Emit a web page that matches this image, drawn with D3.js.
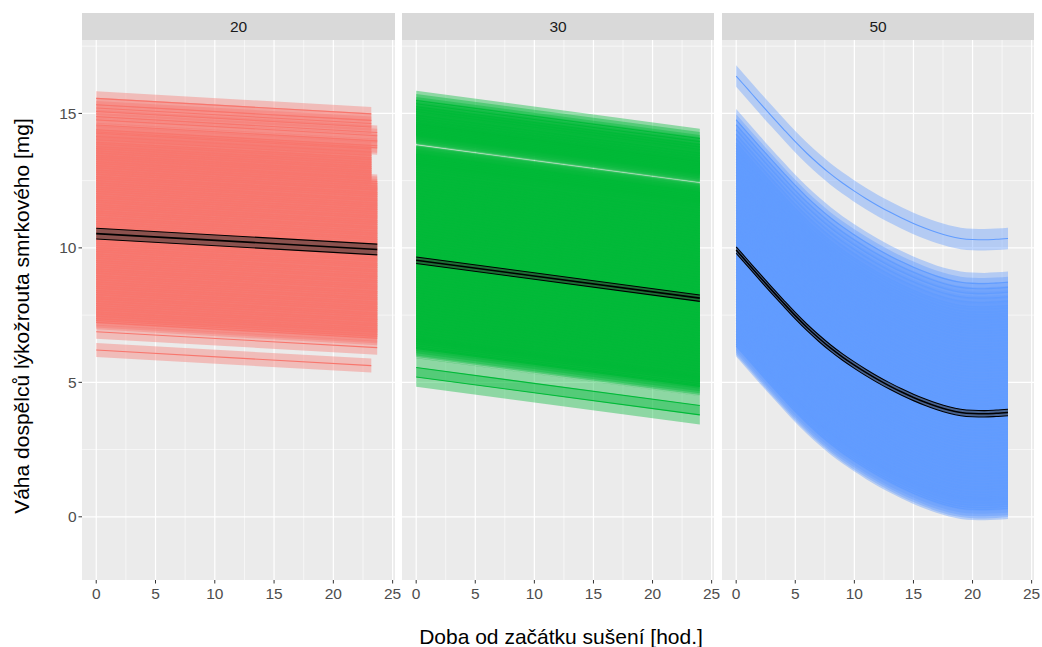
<!DOCTYPE html>
<html>
  <head>
    <meta charset="utf-8">
    <title>Váha dospělců lýkožrouta smrkového</title>
    <script src="https://cdn.jsdelivr.net/npm/d3@7"></script>
    <style>
      body { margin: 0; background: #fff; }
      text { font-family: 'Liberation Sans', Arial, sans-serif; }
    </style>
  </head>
  <body>
    <svg id="chart"></svg>
    <script>
      // facet labels and colours
      let panelLabels = ["20", "30", "50"];
      let panelColors = ["#F8766D", "#00BA38", "#619CFF"];
      let xTicks = [0, 5, 10, 15, 20, 25];
      let yTicks = [0, 5, 10, 15];

      // panel 20: mean curve + individual line starts (value at hour 0)
      let hours20 = [0, 23.7];
      let mean20 = [10.53, 9.94];
      let short20 = [15.56, 15.32, 15.2, 15.07, 14.26, 14.14, 14.02, 13.93, 13.86, 13.76,
                     13.69, 13.6, 13.53, 13.44, 13.37, 13.29, 13.2, 13.14, 6.2];        // end at 23.2 h
      let long20 = [14.88, 14.76, 14.57, 14.39, 14.31, 13.06, 12.98, 12.89, 12.81, 12.74,
                    12.65, 12.58, 12.5, 12.41, 12.34, 12.25, 12.18, 12.1, 12.02, 11.93,
                    11.86, 11.77, 11.7, 11.61, 11.54, 11.46, 11.37, 11.3, 11.22, 11.13,
                    11.06, 10.97, 10.9, 10.81, 10.74, 10.66, 10.57, 10.5, 10.42, 10.33,
                    10.26, 10.17, 10.1, 10.01, 9.94, 9.86, 9.77, 9.7, 9.62, 9.53,
                    9.46, 9.37, 9.3, 9.21, 9.14, 9.06, 8.97, 8.9, 8.82, 8.73,
                    8.66, 8.57, 8.5, 8.41, 8.34, 8.26, 8.17, 8.1, 8.02, 7.93,
                    7.86, 7.77, 7.7, 7.61, 7.54, 7.46, 7.37, 7.3, 7.23, 6.88];       // end at 23.7 h

      // panel 30
      let hours30 = [0, 24];
      let mean30 = [9.54, 8.13];
      let starts30 = [15.48, 15.36, 15.25, 15.16, 15.07, 14.94, 14.85, 14.76, 14.66, 14.57,
                      14.48, 14.42, 14.36, 14.3, 14.25, 14.23, 14.21, 14.2, 13.47, 13.46,
                      13.45, 13.43, 13.4, 13.33, 13.27,
                      13.19, 13.08, 12.99,
                      12.9, 12.8, 12.71, 12.61, 12.52, 12.42, 12.33, 12.23, 12.14, 12.04,
                      11.95, 11.85, 11.76, 11.66, 11.57, 11.47, 11.38, 11.28, 11.19, 11.09,
                      11.0, 10.9, 10.81, 10.71, 10.62, 10.52, 10.43, 10.33, 10.24, 10.14,
                      10.05, 9.95, 9.86, 9.76, 9.67, 9.57, 9.48, 9.38, 9.29, 9.19,
                      9.1, 9.0, 8.91, 8.81, 8.72, 8.62, 8.53, 8.43, 8.34, 8.24,
                      8.15, 8.05, 7.96, 7.86, 7.77, 7.67, 7.58, 7.48, 7.39, 7.29,
                      7.2, 7.1, 7.01, 6.91, 6.82, 6.72, 6.63, 6.53, 6.44, 6.36,
                      6.3, 6.26, 5.55, 5.2];

      // panel 50
      let hours50 = [0, 1, 2, 3, 4, 5, 6, 7, 8, 9, 10, 11, 12, 13, 14, 15, 16, 17, 18, 19, 20, 21, 22, 23];
      let mean50 = [9.92, 9.42, 8.92, 8.43, 7.95, 7.48, 7.04, 6.64, 6.27, 5.94, 5.64, 5.36,
                    5.1, 4.86, 4.64, 4.44, 4.26, 4.1, 3.97, 3.88, 3.84, 3.83, 3.85, 3.88];
      let starts50 = [16.39, 14.76, 14.57, 14.39, 14.22, 14.06, 13.9, 13.81, 13.7, 13.61,
                      13.51, 13.4, 13.31, 13.2, 13.11, 13.0, 12.91, 12.81, 12.7, 12.61,
                      12.5, 12.41, 12.3, 12.21, 12.1, 12.01, 11.9, 11.81, 11.71, 11.6,
                      11.51, 11.4, 11.31, 11.2, 11.11, 11.0, 10.91, 10.8, 10.71, 10.6,
                      10.51, 10.41, 10.3, 10.21, 10.1, 10.01, 9.9, 9.81, 9.7, 9.61,
                      9.5, 9.41, 9.31, 9.2, 9.11, 9.0, 8.91, 8.8, 8.71, 8.6,
                      8.51, 8.41, 8.3, 8.21, 8.1, 8.01, 7.9, 7.81, 7.7, 7.61,
                      7.51, 7.4, 7.31, 7.2, 7.11, 7.0, 6.91, 6.8, 6.71, 6.6,
                      6.51, 6.43, 6.36];

      // half widths of the confidence ribbons
      let ribbonHalf = [0.26, 0.36, 0.4];
      let meanHalf = [0.2, 0.12, 0.12];

      let panels = [
        {hours: hours20, mean: mean20, groups: [{end: 23.2, starts: short20}, {end: 23.7, starts: long20}]},
        {hours: hours30, mean: mean30, groups: [{end: 24, starts: starts30}]},
        {hours: hours50, mean: mean50, groups: [{end: 23, starts: starts50}]}
      ];

      let w = 1042, h = 647;
      let panelX = [[82, 395], [402, 714], [722, 1034]];
      let stripTop = 13, plotTop = 40, plotBottom = 580;

      let svg = d3.select("#chart")
                  .attr("width", w)
                  .attr("height", h);

      svg.append("rect").attr("width", w).attr("height", h).attr("fill", "#fff");

      let y = d3.scaleLinear().domain([-2.35, 17.73]).range([plotBottom, plotTop]);

      panels.forEach((p, i) => {
        let x = d3.scaleLinear().domain([-1.2, 25.2]).range(panelX[i]);
        let meanAt = d3.scaleLinear().domain(p.hours).range(p.mean);
        let color = panelColors[i];
        let g = svg.append("g");

        // background + grid
        g.append("rect")
         .attr("x", panelX[i][0]).attr("y", plotTop)
         .attr("width", panelX[i][1] - panelX[i][0]).attr("height", plotBottom - plotTop)
         .attr("fill", "#EBEBEB");

        let minorX = [2.5, 7.5, 12.5, 17.5, 22.5], minorY = [2.5, 7.5, 12.5, 17.5];
        g.selectAll(".minx").data(minorX).enter().append("line")
         .attr("x1", d => x(d)).attr("x2", d => x(d))
         .attr("y1", plotTop).attr("y2", plotBottom)
         .attr("stroke", "#fff").attr("stroke-width", 0.6);
        g.selectAll(".miny").data(minorY).enter().append("line")
         .attr("x1", panelX[i][0]).attr("x2", panelX[i][1])
         .attr("y1", d => y(d)).attr("y2", d => y(d))
         .attr("stroke", "#fff").attr("stroke-width", 0.6);
        g.selectAll(".majx").data(xTicks).enter().append("line")
         .attr("x1", d => x(d)).attr("x2", d => x(d))
         .attr("y1", plotTop).attr("y2", plotBottom)
         .attr("stroke", "#fff").attr("stroke-width", 1.2);
        g.selectAll(".majy").data(yTicks).enter().append("line")
         .attr("x1", panelX[i][0]).attr("x2", panelX[i][1])
         .attr("y1", d => y(d)).attr("y2", d => y(d))
         .attr("stroke", "#fff").attr("stroke-width", 1.2);

        // clip
        g.append("clipPath").attr("id", "clip" + i)
         .append("rect")
         .attr("x", panelX[i][0]).attr("y", plotTop)
         .attr("width", panelX[i][1] - panelX[i][0]).attr("height", plotBottom - plotTop);

        // build individual curves, parallel to the mean curve
        let curves = [];
        p.groups.forEach(grp => {
          let hs = p.hours.filter(hh => hh < grp.end).concat([grp.end]);
          grp.starts.forEach(s => {
            curves.push(hs.map(hh => ({h: hh, v: meanAt(hh) + s - p.mean[0]})));
          });
        });

        let hw = ribbonHalf[i];
        let area = d3.area()
                     .curve(d3.curveMonotoneX)
                     .x(d => x(d.h))
                     .y0(d => y(d.v - hw))
                     .y1(d => y(d.v + hw));
        let line = d3.line().curve(d3.curveMonotoneX).x(d => x(d.h)).y(d => y(d.v));

        let data = g.append("g").attr("clip-path", "url(#clip" + i + ")");

        data.selectAll(".ribbon").data(curves).enter().append("path")
            .attr("d", area)
            .attr("fill", color)
            .attr("fill-opacity", 0.4);

        data.selectAll(".ind").data(curves).enter().append("path")
            .attr("d", line)
            .attr("fill", "none")
            .attr("stroke", color)
            .attr("stroke-width", 1.1);

        // mean curve with its band
        let meanPts = p.hours.map((hh, k) => ({h: hh, v: p.mean[k]}));
        let mh = meanHalf[i];
        data.append("path")
            .attr("d", d3.area().curve(d3.curveMonotoneX).x(d => x(d.h)).y0(d => y(d.v - mh)).y1(d => y(d.v + mh))(meanPts))
            .attr("fill", "#333")
            .attr("fill-opacity", 0.55);
        [-mh, 0, mh].forEach(off => {
          data.append("path")
              .attr("d", d3.line().curve(d3.curveMonotoneX).x(d => x(d.h)).y(d => y(d.v + off))(meanPts))
              .attr("fill", "none")
              .attr("stroke", "#000")
              .attr("stroke-width", off == 0 ? 1.6 : 1.1);
        });

        // strip
        g.append("rect")
         .attr("x", panelX[i][0]).attr("y", stripTop)
         .attr("width", panelX[i][1] - panelX[i][0]).attr("height", plotTop - stripTop)
         .attr("fill", "#D9D9D9");
        g.append("text")
         .attr("x", (panelX[i][0] + panelX[i][1]) / 2)
         .attr("y", (stripTop + plotTop) / 2 + 5.5)
         .attr("text-anchor", "middle")
         .attr("font-size", 15.5)
         .attr("fill", "#1A1A1A")
         .text(panelLabels[i]);

        // x axis
        let xa = g.append("g");
        xa.selectAll("line").data(xTicks).enter().append("line")
          .attr("x1", d => x(d)).attr("x2", d => x(d))
          .attr("y1", plotBottom).attr("y2", plotBottom + 3.5)
          .attr("stroke", "#333").attr("stroke-width", 1);
        xa.selectAll("text").data(xTicks).enter().append("text")
          .attr("x", d => x(d))
          .attr("y", plotBottom + 19)
          .attr("text-anchor", "middle")
          .attr("font-size", 15.5)
          .attr("fill", "#4D4D4D")
          .text(d => d);

        // y axis only on first panel
        if (i == 0) {
          let ya = g.append("g");
          ya.selectAll("line").data(yTicks).enter().append("line")
            .attr("x1", panelX[0][0] - 3.5).attr("x2", panelX[0][0])
            .attr("y1", d => y(d)).attr("y2", d => y(d))
            .attr("stroke", "#333").attr("stroke-width", 1);
          ya.selectAll("text").data(yTicks).enter().append("text")
            .attr("x", panelX[0][0] - 5.5)
            .attr("y", d => y(d) + 5.5)
            .attr("text-anchor", "end")
            .attr("font-size", 15.5)
            .attr("fill", "#4D4D4D")
            .text(d => d);
        }
      });

      // axis titles
      svg.append("text")
         .attr("x", (panelX[0][0] + panelX[2][1]) / 2 + 3)
         .attr("y", 644)
         .attr("text-anchor", "middle")
         .attr("font-size", 21)
         .attr("fill", "#000")
         .text("Doba od začátku sušení [hod.]");

      svg.append("text")
         .attr("transform", "translate(29," + 316 + ") rotate(-90)")
         .attr("text-anchor", "middle")
         .attr("font-size", 21)
         .attr("fill", "#000")
         .text("Váha dospělců lýkožrouta smrkového [mg]");
    </script>
  </body>
</html>
